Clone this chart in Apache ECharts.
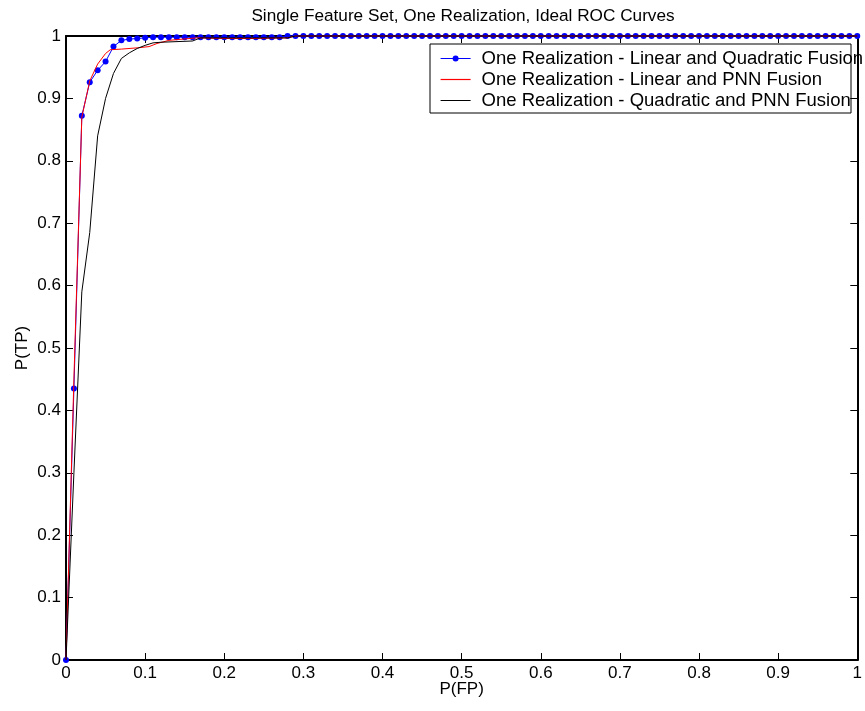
<!DOCTYPE html>
<html>
<head>
<meta charset="utf-8">
<script src="https://cdn.jsdelivr.net/npm/echarts@6/dist/echarts.min.js"></script>
<style>
html,body{margin:0;padding:0;background:#fff;}
#chart{width:865px;height:711px;}
</style>
</head>
<body>
<div id="chart"></div>
<script>
var titleText = 'Single Feature Set, One Realization, Ideal ROC Curves';
var xLabel = 'P(FP)';
var yLabel = 'P(TP)';
var seriesNames = [
  'One Realization - Linear and Quadratic Fusion',
  'One Realization - Linear and PNN Fusion',
  'One Realization - Quadratic and PNN Fusion'
];
var seriesColors = ['#0000ff', '#ff0000', '#000000'];

var fpLinQuad = [0,0.01,0.02,0.03,0.04,0.05,0.06,0.07,0.08,0.09,
  0.10,0.11,0.12,0.13,0.14,0.15,0.16,0.17,0.18,0.19,
  0.20,0.21,0.22,0.23,0.24,0.25,0.26,0.27,0.28,0.29,
  0.30,0.31,0.32,0.33,0.34,0.35,0.36,0.37,0.38,0.39,
  0.40,0.41,0.42,0.43,0.44,0.45,0.46,0.47,0.48,0.49,
  0.50,0.51,0.52,0.53,0.54,0.55,0.56,0.57,0.58,0.59,
  0.60,0.61,0.62,0.63,0.64,0.65,0.66,0.67,0.68,0.69,
  0.70,0.71,0.72,0.73,0.74,0.75,0.76,0.77,0.78,0.79,
  0.80,0.81,0.82,0.83,0.84,0.85,0.86,0.87,0.88,0.89,
  0.90,0.91,0.92,0.93,0.94,0.95,0.96,0.97,0.98,0.99,1.00];
var tpLinQuad = [0,0.435,0.872,0.926,0.945,0.959,0.983,0.993,0.995,0.996,
  0.997,0.998,0.998,0.998,0.998,0.998,0.998,0.998,0.998,0.998,
  0.998,0.998,0.998,0.998,0.998,0.998,0.998,0.998,1,1,
  1,1,1,1,1,1,1,1,1,1,
  1,1,1,1,1,1,1,1,1,1,
  1,1,1,1,1,1,1,1,1,1,
  1,1,1,1,1,1,1,1,1,1,
  1,1,1,1,1,1,1,1,1,1,
  1,1,1,1,1,1,1,1,1,1,
  1,1,1,1,1,1,1,1,1,1,1];

var fpLinPnn = [0,0.01,0.02,0.03,0.04,0.05,0.056,0.07,0.09,0.105,0.115,0.13,0.165,0.2,0.24,0.28,0.29,1];
var tpLinPnn = [0,0.45,0.87,0.928,0.955,0.972,0.978,0.979,0.981,0.983,0.988,0.993,0.997,0.996,0.996,0.997,1,1];

var fpQuadPnn = [0,0.01,0.02,0.03,0.04,0.05,0.06,0.07,0.08,0.09,0.1,0.11,0.12,0.16,0.17,0.28,0.29,1];
var tpQuadPnn = [0,0.3,0.59,0.685,0.84,0.9,0.94,0.964,0.973,0.98,0.985,0.989,0.99,0.992,0.997,0.997,1,1];

function pairs(xs, ys){ return xs.map(function(x,i){ return [x, ys[i]]; }); }

var font = 'Liberation Sans, Arial, sans-serif';
var chart = echarts.init(document.getElementById('chart'), null, {renderer:'canvas'});

var gridL = 66, gridT = 36, gridR = 4, gridB = 51;

var baseAxis = {
  type:'value', min:0, max:1, interval:0.1,
  axisLine:{show:true, onZero:false, lineStyle:{color:'#000', width:2}},
  axisTick:{show:true, inside:true, length:7, lineStyle:{color:'#000', width:1}},
  splitLine:{show:false},
  axisLabel:{color:'#000', fontFamily:font, fontSize:17}
};

chart.setOption({
  animation:false,
  backgroundColor:'#fff',
  title:{
    text:titleText, left:458, top:3, textAlign:'center',
    textStyle:{fontFamily:font, fontSize:17.2, fontWeight:'normal', color:'#000'}
  },
  grid:{left:gridL, top:gridT, right:gridR, bottom:gridB, containLabel:false},
  xAxis:[
    Object.assign({}, baseAxis, {position:'bottom', name:xLabel, nameLocation:'middle', nameGap:21,
      nameMoveOverlap:false,
      nameTextStyle:{fontFamily:font, fontSize:17, color:'#000'},
      axisLabel:{color:'#000', fontFamily:font, fontSize:17, margin:5}}),
    Object.assign({}, baseAxis, {position:'top', axisLabel:{show:false}})
  ],
  yAxis:[
    Object.assign({}, baseAxis, {position:'left', name:yLabel, nameLocation:'middle', nameGap:35,
      nameMoveOverlap:false,
      nameTextStyle:{fontFamily:font, fontSize:17, color:'#000'},
      axisLabel:{color:'#000', fontFamily:font, fontSize:17, margin:5}}),
    Object.assign({}, baseAxis, {position:'right', axisLabel:{show:false}})
  ],
  legend:{
    left:440, top:48, orient:'vertical', itemGap:0, padding:0,
    itemWidth:30, itemHeight:7.5,
    textStyle:{fontFamily:font, fontSize:18.5, color:'#000', lineHeight:21, padding:[0,0,0,6]},
    data:[
      {name:seriesNames[0], lineStyle:{color:seriesColors[0], width:1}},
      {name:seriesNames[1], itemStyle:{opacity:0}, lineStyle:{color:seriesColors[1], width:1.2}},
      {name:seriesNames[2], itemStyle:{opacity:0}, lineStyle:{color:seriesColors[2], width:1}}
    ]
  },
  graphic:[{
    type:'rect', z:100, silent:true,
    shape:{x:430, y:44, width:421, height:69},
    style:{fill:'none', stroke:'#000', lineWidth:1}
  }],
  series:[
    {name:seriesNames[0], type:'line', data:pairs(fpLinQuad,tpLinQuad),
      symbol:'circle', symbolSize:6, showAllSymbol:true, clip:false,
      lineStyle:{color:seriesColors[0], width:1}, itemStyle:{color:seriesColors[0]}, z:2},
    {name:seriesNames[1], type:'line', data:pairs(fpLinPnn,tpLinPnn),
      symbol:'none', clip:false,
      lineStyle:{color:seriesColors[1], width:1}, itemStyle:{color:seriesColors[1]}, z:3},
    {name:seriesNames[2], type:'line', data:pairs(fpQuadPnn,tpQuadPnn),
      symbol:'none', clip:false,
      lineStyle:{color:seriesColors[2], width:1}, itemStyle:{color:seriesColors[2]}, z:4}
  ]
});
</script>
</body>
</html>
